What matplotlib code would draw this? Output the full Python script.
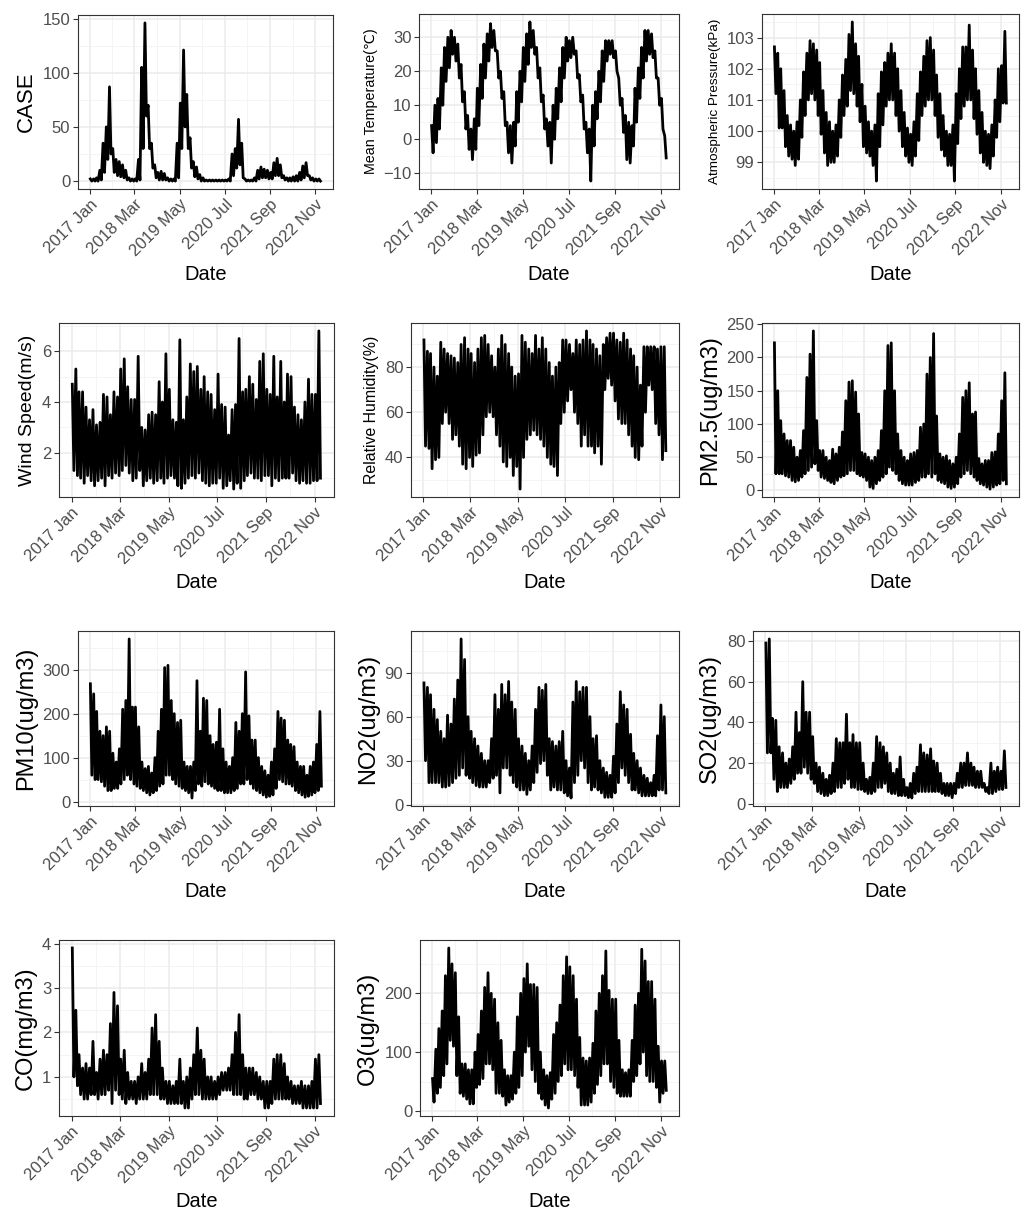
import numpy as np
import pandas as pd
import matplotlib
matplotlib.use("Agg")
import matplotlib.pyplot as plt
import matplotlib.dates as mdates
from matplotlib.ticker import MultipleLocator, FixedLocator

plt.rcParams['font.family'] = ['Liberation Sans', 'DejaVu Sans']

# monthly high / low readings, Jan 2017 .. Dec 2022 (one row per year)
case_hi = [2, 2, 3, 10, 35, 50, 87, 30, 20, 18, 15, 10,
           3, 2, 2, 20, 105, 146, 70, 35, 15, 8, 9, 7,
           3, 2, 2, 35, 72, 121, 80, 40, 18, 13, 6, 3,
           1, 1, 1, 1, 1, 1, 1, 2, 25, 30, 57, 35,
           2, 1, 1, 3, 10, 13, 11, 10, 8, 17, 21, 15,
           5, 3, 3, 4, 5, 8, 14, 17, 5, 3, 2, 2]
case_lo = [0, 0, 0, 1, 8, 20, 25, 8, 5, 4, 3, 1,
           0, 0, 0, 1, 30, 60, 30, 12, 3, 1, 1, 1,
           0, 0, 0, 3, 30, 50, 30, 12, 4, 2, 0, 0,
           0, 0, 0, 0, 0, 0, 0, 0, 5, 12, 15, 3,
           0, 0, 0, 0, 2, 3, 3, 2, 2, 5, 5, 3,
           1, 0, 0, 0, 0, 1, 3, 5, 1, 0, 0, 0]

temp_hi = [4, 10, 12, 21, 27, 30, 32, 30, 28, 22, 14, 7,
           3, 6, 15, 22, 28, 31, 34, 32, 26, 20, 14, 5,
           4, 5, 14, 20, 27, 31, 34.5, 32, 27, 21, 13, 6,
           5, 10, 15, 21, 27, 30, 29, 30, 26, 19, 13, 5,
           3, 10, 14, 20, 26, 29, 29, 29, 26, 18, 12, 7,
           5, 4, 15, 21, 27, 32, 32, 31, 26, 18, 12, 1]
temp_lo = [-4, -1, 3, 10, 17, 21, 25, 23, 18, 11, 3, -3,
           -6, -3, 4, 12, 18, 23, 27, 26, 18, 12, 4, -4,
           -7, -2, 5, 11, 17, 22, 27, 25, 18, 11, 3, -2,
           -7, 0, 6, 11, 18, 23, 24, 25, 18, 11, 3, -4,
           -12.3, -2, 6, 11, 17, 23, 25, 24, 20, 10, 2, -6,
           -7, -2, 5, 12, 18, 23, 25, 24, 18, 10, 3, -5.5]

pres_hi = [102.7, 102.5, 102.0, 101.3, 100.5, 100.2, 100.0, 100.3, 101.0, 101.9, 102.5, 102.9,
           102.8, 102.6, 102.2, 101.3, 100.6, 100.3, 100.0, 100.2, 101.0, 101.8, 102.3, 103.1,
           103.5, 102.8, 102.4, 101.5, 100.8, 100.3, 100.0, 100.2, 101.2, 101.9, 102.2, 102.5,
           102.8, 102.5, 102.0, 101.3, 100.6, 100.1, 99.9, 100.3, 101.2, 101.9, 102.4, 102.9,
           103.0, 102.6, 101.8, 101.2, 100.5, 100.0, 99.9, 100.2, 101.2, 102.0, 102.7, 102.7,
           103.4, 102.6, 102.0, 101.3, 100.6, 100.0, 99.9, 100.2, 101.0, 102.0, 102.1, 103.2]
pres_lo = [101.2, 100.1, 100.1, 99.5, 99.2, 99.1, 98.9, 99.1, 99.8, 100.5, 101.0, 101.2,
           101.0, 100.5, 99.9, 99.3, 98.9, 99.0, 99.0, 99.2, 99.8, 100.5, 100.8, 101.3,
           101.2, 100.8, 100.3, 99.5, 99.3, 99.2, 98.9, 98.4, 99.5, 100.2, 100.8, 101.0,
           101.0, 100.5, 100.0, 99.5, 99.2, 99.0, 98.9, 99.2, 99.7, 100.5, 100.8, 101.0,
           101.0, 100.5, 99.8, 99.4, 99.2, 98.9, 98.9, 98.4, 99.6, 100.4, 100.8, 101.0,
           101.0, 100.4, 99.9, 99.3, 99.0, 98.9, 98.8, 99.2, 99.8, 100.3, 100.9, 100.9]

wind_hi = [4.7, 5.3, 4.4, 4.4, 3.8, 3.3, 3.7, 3.1, 3.2, 4.3, 4.2, 3.5,
           4.4, 4.2, 5.3, 5.7, 4.6, 4.1, 4.1, 5.8, 3.0, 2.9, 3.5, 3.6,
           3.5, 4.8, 4.0, 5.9, 4.5, 3.3, 3.2, 6.45, 3.3, 4.2, 5.5, 5.2,
           5.4, 4.5, 5.0, 4.4, 4.3, 3.7, 5.1, 3.9, 3.8, 2.7, 3.7, 3.9,
           6.5, 4.4, 4.5, 5.0, 4.7, 4.1, 5.6, 5.9, 4.5, 4.3, 5.8, 4.2,
           5.6, 4.0, 5.1, 5.0, 3.8, 3.5, 3.3, 4.0, 4.9, 4.3, 4.3, 6.8]
wind_lo = [1.3, 1.1, 1.0, 0.8, 1.1, 0.9, 0.7, 0.9, 1.0, 0.7, 1.1, 1.0,
           1.2, 1.1, 1.3, 1.5, 1.2, 0.9, 1.0, 1.3, 0.7, 0.9, 1.0, 0.8,
           0.9, 1.0, 0.8, 1.0, 1.1, 1.0, 0.7, 0.6, 0.8, 1.0, 1.1, 1.0,
           1.2, 0.9, 0.8, 0.7, 0.8, 0.8, 1.0, 0.6, 0.7, 0.9, 0.57, 0.8,
           0.6, 0.9, 1.1, 1.2, 1.0, 1.0, 0.9, 1.1, 1.1, 0.7, 1.0, 0.9,
           1.0, 1.0, 1.0, 1.2, 0.9, 0.8, 0.9, 0.8, 0.8, 0.9, 0.9, 1.0]

rh_hi = [92, 87, 86, 80, 76, 91, 88, 86, 85, 84, 82, 90,
         93, 88, 86, 82, 88, 93, 94, 90, 85, 80, 88, 94,
         90, 86, 80, 76, 77, 94, 91, 88, 86, 94, 88, 93,
         88, 82, 76, 80, 82, 92, 92, 90, 86, 92, 90, 92,
         96, 92, 90, 88, 85, 90, 93, 95, 95, 92, 91, 95,
         92, 88, 85, 80, 72, 89, 89, 89, 89, 88, 89, 89]
rh_lo = [45, 44, 35, 39, 40, 55, 60, 55, 48, 50, 45, 37,
         35, 40, 36, 41, 42, 50, 58, 60, 58, 50, 45, 38,
         36, 40, 32, 36, 26, 40, 48, 50, 52, 50, 48, 45,
         40, 37, 36, 32, 55, 60, 65, 70, 60, 55, 45, 50,
         45, 45, 42, 45, 37, 70, 75, 72, 65, 57, 55, 55,
         50, 45, 40, 39, 45, 60, 72, 70, 55, 50, 39, 43]

pm25_hi = [222, 150, 105, 85, 75, 75, 65, 50, 60, 90, 170, 205,
           240, 105, 60, 60, 50, 45, 62, 55, 65, 88, 135, 163,
           165, 148, 115, 57, 55, 50, 45, 50, 60, 90, 150, 218,
           222, 150, 85, 60, 50, 45, 55, 57, 60, 95, 100, 175,
           200, 236, 112, 55, 50, 52, 45, 40, 50, 85, 140, 150,
           162, 115, 118, 48, 40, 45, 45, 57, 58, 85, 135, 177]
pm25_lo = [25, 25, 25, 22, 20, 15, 13, 15, 20, 25, 30, 35,
           40, 30, 20, 18, 15, 12, 10, 15, 20, 22, 25, 30,
           30, 25, 22, 20, 15, 5, 3, 10, 15, 20, 25, 35,
           30, 25, 15, 10, 8, 8, 8, 12, 15, 20, 20, 25,
           20, 25, 15, 12, 10, 5, 3, 5, 10, 20, 25, 30,
           25, 20, 15, 10, 8, 5, 2, 5, 8, 10, 15, 10]

pm10_hi = [268, 245, 205, 160, 150, 170, 160, 110, 90, 120, 210, 230,
           370, 215, 215, 170, 90, 75, 80, 65, 100, 160, 210, 305,
           310, 230, 200, 180, 185, 90, 80, 80, 90, 275, 160, 235,
           230, 150, 130, 135, 210, 120, 90, 80, 100, 180, 160, 200,
           295, 195, 140, 140, 100, 80, 70, 60, 90, 120, 205, 190,
           185, 140, 130, 125, 90, 80, 80, 60, 80, 90, 130, 205]
pm10_lo = [60, 50, 50, 45, 35, 25, 25, 30, 30, 40, 50, 60,
           50, 40, 35, 30, 25, 20, 15, 20, 25, 35, 40, 60,
           60, 50, 40, 35, 30, 25, 20, 8, 25, 40, 35, 45,
           40, 35, 30, 25, 25, 20, 20, 20, 25, 30, 40, 40,
           50, 40, 30, 25, 20, 15, 10, 12, 15, 30, 50, 45,
           40, 40, 35, 25, 20, 15, 10, 12, 15, 20, 25, 35]

no2_hi = [83, 80, 75, 65, 58, 50, 45, 61, 55, 72, 85, 113,
          99, 60, 50, 45, 40, 35, 30, 30, 45, 75, 65, 82,
          75, 84, 70, 65, 45, 40, 35, 30, 40, 65, 80, 78,
          82, 45, 43, 40, 43, 50, 30, 25, 70, 84, 77, 80,
          80, 60, 45, 47, 30, 25, 22, 20, 33, 55, 77, 68,
          65, 48, 35, 30, 25, 20, 18, 15, 20, 47, 68, 60]
no2_lo = [30, 15, 15, 15, 15, 12, 12, 13, 15, 18, 20, 25,
          20, 18, 15, 13, 12, 12, 12, 15, 18, 20, 8, 25,
          25, 20, 15, 12, 10, 10, 7, 10, 15, 22, 28, 30,
          20, 10, 12, 10, 10, 8, 6, 4.5, 15, 20, 30, 25,
          15, 10, 12, 10, 8, 5, 5, 5, 8, 15, 25, 20,
          15, 10, 10, 8, 6, 6, 6, 6, 6, 10, 10, 8]

so2_hi = [79, 81, 42, 41, 28, 25, 20, 22, 28, 45, 35, 60,
          45, 45, 33, 20, 18, 15, 12, 14, 20, 32, 30, 30,
          44, 30, 34, 30, 30, 20, 12, 13, 20, 33, 30, 28,
          25, 20, 15, 17, 23, 12, 8, 10, 15, 18, 29, 25,
          24, 27, 21, 20, 15, 10, 10, 10, 10, 15, 20, 20,
          25, 20, 18, 16, 16, 10, 8, 20, 16, 18, 16, 26]
so2_lo = [25, 25, 12, 6, 8, 8, 8, 10, 12, 15, 15, 18,
          15, 12, 10, 6, 5, 4, 4, 5, 6, 8, 8, 10,
          12, 8, 8, 7, 7, 6, 5, 5, 6, 8, 8, 10,
          6, 5, 5, 4, 4, 4, 3, 2.8, 5, 6, 6, 6,
          6, 6, 6, 6, 5, 4, 4, 3, 5, 8, 8, 9,
          9, 9, 8, 8, 8, 6, 5, 5, 6, 7, 7, 8]

co_hi = [3.9, 2.5, 1.5, 1.2, 1.3, 1.2, 1.8, 1.1, 1.4, 1.6, 1.5, 2.2,
         2.9, 2.6, 1.4, 1.6, 1.1, 0.9, 0.9, 1.0, 1.3, 1.1, 1.4, 2.1,
         2.4, 1.8, 1.2, 0.9, 0.9, 0.8, 0.9, 1.4, 0.9, 1.0, 1.2, 1.5,
         2.1, 1.6, 1.4, 1.0, 1.0, 0.9, 1.0, 1.1, 1.1, 1.2, 1.5, 2.0,
         2.4, 1.5, 1.2, 1.2, 1.2, 1.1, 1.0, 0.9, 0.9, 0.9, 1.4, 1.5,
         1.5, 1.3, 1.0, 0.9, 0.8, 0.8, 0.9, 0.8, 0.8, 0.9, 1.4, 1.5]
co_lo = [1.0, 0.8, 0.6, 0.5, 0.5, 0.6, 0.6, 0.5, 0.6, 0.6, 0.7, 0.4,
         0.7, 0.6, 0.5, 0.4, 0.5, 0.5, 0.4, 0.5, 0.5, 0.5, 0.6, 0.6,
         0.6, 0.5, 0.5, 0.4, 0.4, 0.4, 0.4, 0.4, 0.3, 0.3, 0.5, 0.6,
         0.6, 0.5, 0.5, 0.5, 0.5, 0.5, 0.6, 0.7, 0.7, 0.7, 0.6, 0.6,
         0.6, 0.5, 0.5, 0.6, 0.6, 0.5, 0.5, 0.3, 0.3, 0.4, 0.5, 0.5,
         0.5, 0.5, 0.5, 0.4, 0.4, 0.4, 0.3, 0.3, 0.3, 0.3, 0.3, 0.4]

o3_hi = [55, 105, 140, 170, 230, 277, 250, 235, 160, 80, 80, 70,
         70, 100, 130, 170, 210, 235, 200, 190, 150, 120, 70, 60,
         60, 100, 160, 200, 225, 250, 215, 215, 210, 100, 70, 60,
         65, 130, 150, 180, 230, 262, 245, 230, 190, 125, 90, 85,
         90, 115, 170, 200, 230, 272, 205, 190, 190, 120, 70, 65,
         70, 120, 180, 200, 275, 255, 220, 220, 190, 110, 85, 85]
o3_lo = [15, 30, 40, 60, 80, 120, 110, 60, 30, 25, 20, 12,
         12, 40, 45, 55, 80, 80, 70, 30, 30, 25, 10, 15,
         20, 30, 40, 60, 100, 110, 70, 50, 30, 20, 10, 5,
         20, 30, 50, 60, 80, 70, 70, 60, 40, 10, 10, 10,
         15, 30, 45, 60, 80, 80, 50, 40, 30, 25, 25, 25,
         25, 50, 60, 80, 100, 60, 50, 50, 40, 15, 30, 35]

ylabels = ['CASE', 'Mean Temperature(℃)', 'Atmospheric Pressure(kPa)',
           'Wind Speed(m/s)', 'Relative Humidity(%)', 'PM2.5(ug/m3)',
           'PM10(ug/m3)', 'NO2(ug/m3)', 'SO2(ug/m3)',
           'CO(mg/m3)', 'O3(ug/m3)']
series = [(case_hi, case_lo), (temp_hi, temp_lo), (pres_hi, pres_lo),
          (wind_hi, wind_lo), (rh_hi, rh_lo), (pm25_hi, pm25_lo),
          (pm10_hi, pm10_lo), (no2_hi, no2_lo), (so2_hi, so2_lo),
          (co_hi, co_lo), (o3_hi, o3_lo)]
ysteps = [50, 10, 1, 2, 20, 50, 100, 30, 20, 1, 100]
tick_dates = ['2017-01-01', '2018-03-01', '2019-05-01', '2020-07-01', '2021-09-01', '2022-11-01']

# panel boxes in pixels: left, top, right, bottom
boxes = [(78, 15, 333, 189), (419, 14, 679, 189), (762, 14, 1019, 189),
         (59, 323, 334, 497), (411, 323, 679, 497), (762, 323, 1019, 497),
         (78, 631, 334, 806), (411, 631, 679, 806), (753, 631, 1019, 806),
         (59, 940, 334, 1116), (420, 940, 679, 1116)]
ylab_size = [16, 10.3, 9.7, 14, 11.4, 17, 17, 17, 17, 17, 17]

W, H = 1026, 1212
fig = plt.figure(figsize=(W / 100, H / 100), dpi=100)

months = pd.date_range('2017-01-01', periods=72, freq='MS')
x = np.empty(144, dtype='datetime64[ns]')
x[0::2] = (months + pd.Timedelta(days=7)).values
x[1::2] = (months + pd.Timedelta(days=21)).values
xn = mdates.date2num(x)

start = mdates.date2num(pd.Timestamp('2017-01-01'))
end = mdates.date2num(pd.Timestamp('2022-12-31'))
pad = (end - start) * 0.05
major = mdates.date2num(pd.to_datetime(tick_dates))
minor = (major[:-1] + major[1:]) / 2

for i in range(11):
    L, T, R, B = boxes[i]
    ax = fig.add_axes([L / W, 1 - B / H, (R - L) / W, (B - T) / H])
    hi, lo = series[i]
    y = np.empty(144)
    y[0::2] = hi
    y[1::2] = lo
    ax.plot(xn, y, color='black', lw=2.0, solid_joinstyle='round')

    ymin, ymax = min(lo), max(hi)
    r = ymax - ymin
    ax.set_ylim(ymin - 0.05 * r, ymax + 0.05 * r)
    ax.set_xlim(start - pad, end + pad)

    ax.yaxis.set_major_locator(MultipleLocator(ysteps[i]))
    ax.yaxis.set_minor_locator(MultipleLocator(ysteps[i] / 2))
    ax.xaxis.set_major_locator(FixedLocator(major))
    ax.xaxis.set_minor_locator(FixedLocator(minor))
    ax.set_xticklabels([pd.Timestamp(d).strftime('%Y %b') for d in tick_dates],
                       rotation=45, ha='right', va='top', rotation_mode='anchor')

    ax.grid(which='major', color='#EBEBEB', lw=1.1)
    ax.grid(which='minor', color='#F2F2F2', lw=0.6)
    ax.set_axisbelow(True)
    for s in ax.spines.values():
        s.set_color('#333333')
        s.set_linewidth(0.8)
    ax.tick_params(which='major', length=3.5, width=0.8, color='#333333',
                   labelsize=12, labelcolor='#4D4D4D', pad=2)
    ax.tick_params(which='minor', length=0)

    ax.set_xlabel('Date', fontsize=14.5, labelpad=4)
    ax.set_ylabel(ylabels[i], fontsize=ylab_size[i], labelpad=4)

fig.savefig('out.png', dpi=100, facecolor='white')
